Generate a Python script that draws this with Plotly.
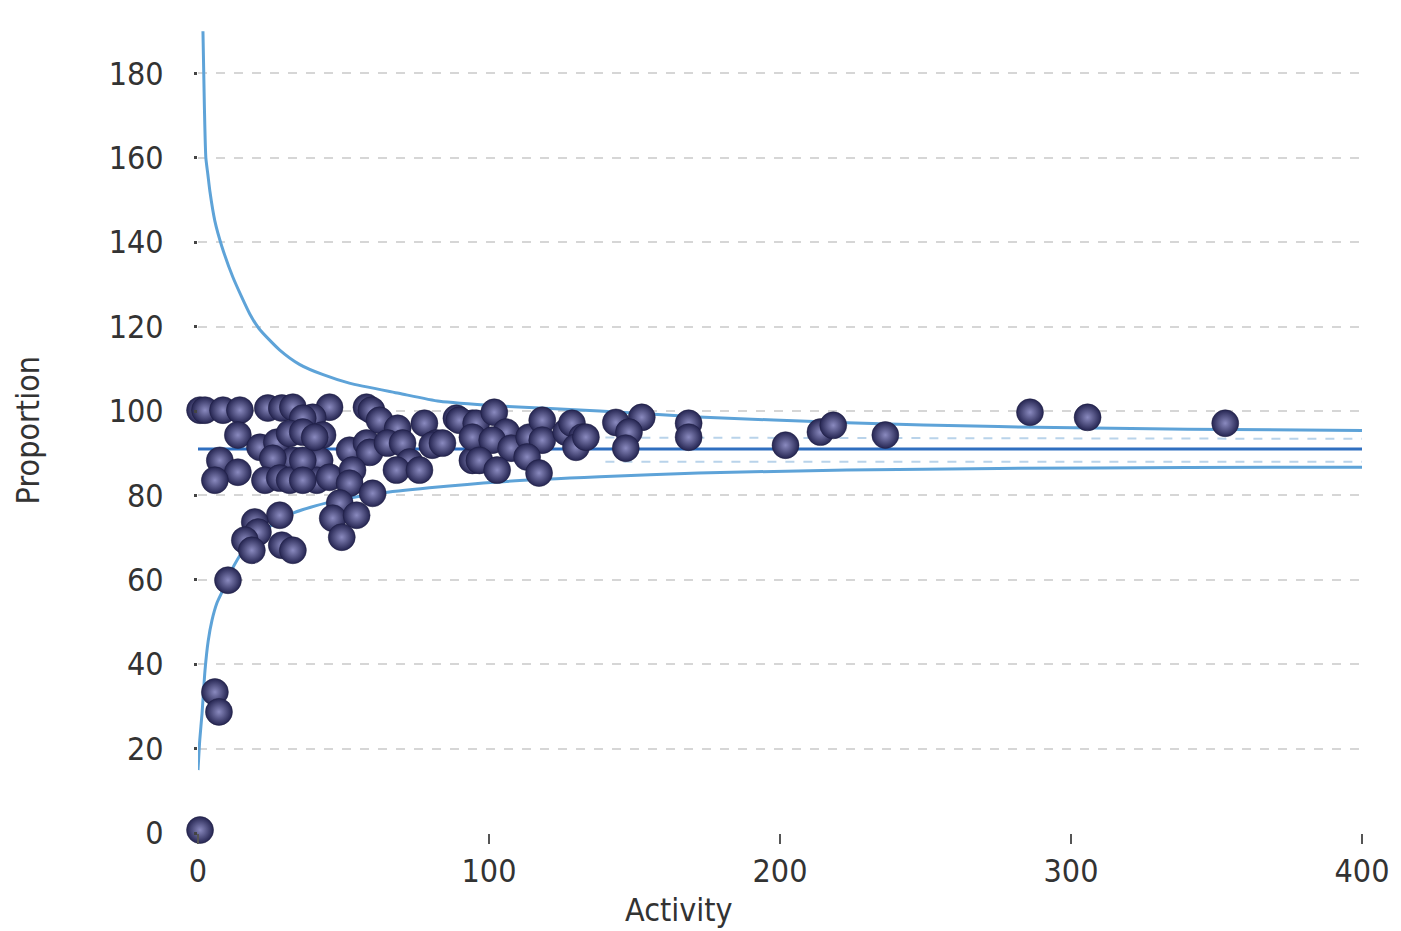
import plotly.graph_objects as go

# Scatter data (Activity, Proportion)
activity = [0.7, 2.4, 8.6, 14.4, 24.0, 28.8, 32.6, 45.2, 39.4, 36.0, 57.9, 59.6, 62.4, 68.6, 77.8,
            81.9, 88.8, 94.3, 94.3, 13.7, 7.5, 13.7, 5.8, 21.3, 27.1, 31.5, 36.0, 42.8, 41.8, 32.6,
            25.7, 23.0, 28.1, 31.5, 40.8, 45.2, 52.1, 57.9, 59.0, 65.1, 70.3, 80.5, 72.7, 68.2, 76.1,
            53.1, 52.1, 60.0, 48.7, 46.3, 54.5, 49.4, 28.1, 19.5, 20.6, 16.1, 18.5, 28.8, 32.6, 10.3,
            5.8, 7.2, 0.7, 89.8, 95.6, 101.8, 105.9, 94.3, 101.1, 107.6, 113.8, 118.3, 118.3, 126.5,
            128.5, 132.0, 129.9, 96.7, 102.8, 113.1, 117.2, 84.0, 143.6, 152.5, 148.1, 147.0, 133.3,
            168.6, 168.6, 201.9, 213.9, 218.3, 236.2, 285.9, 305.7, 353.0, 36.0, 36.0, 40.1]
proportion = [100.2, 100.2, 100.2, 100.2, 100.7, 100.7, 100.9, 100.9, 98.5, 98.3, 100.9, 100.2, 97.8,
              95.9, 97.1, 92.4, 98.3, 97.1, 88.3, 94.3, 88.3, 85.5, 83.6, 91.4, 92.6, 94.7, 95.0,
              94.3, 88.3, 88.3, 88.8, 83.6, 84.1, 83.6, 83.6, 84.3, 90.7, 92.4, 90.2, 92.4, 92.4,
              91.9, 87.9, 86.0, 86.0, 86.0, 82.9, 80.5, 78.2, 74.6, 75.3, 70.1, 75.3, 73.7, 71.3,
              69.4, 67.0, 68.2, 67.0, 59.9, 33.4, 28.7, 0.7, 97.8, 97.1, 99.7, 95.0, 93.8, 93.1,
              91.2, 93.8, 97.8, 93.1, 95.0, 97.1, 93.8, 91.4, 88.3, 86.0, 89.1, 85.3, 92.4, 97.3,
              98.5, 95.0, 91.2, 93.8, 97.1, 93.8, 91.9, 95.0, 96.6, 94.3, 99.7, 98.5, 97.1, 88.3,
              83.6, 93.8]

# Funnel limits
upper_x = [1.7, 2.2, 2.7, 3.4, 4.1, 5.8, 8.2, 12, 17.8, 21, 28, 35, 43, 52, 69, 83, 103.5, 138, 172,
           223, 275, 340, 400]
upper_y = [190, 172, 160, 156, 152, 145, 139, 131.7, 123, 119.5, 114.5, 111, 108.6, 106.6, 104.2,
           102.3, 101.2, 100.0, 98.6, 97.2, 96.3, 95.7, 95.4]
lower_x = [0, 0.6, 1.4, 2.4, 3.5, 4.8, 6.5, 8.6, 11, 13.7, 18, 23.7, 32.6, 45.2, 62.4, 79.5, 103, 138,
           172, 223, 275, 340, 400]
lower_y = [14.9, 22, 28.4, 38.5, 45.5, 50.4, 54.5, 57.6, 61.5, 65.0, 69.2, 72.2, 75.8, 78.4, 80.5,
           81.8, 83.2, 84.4, 85.3, 86.0, 86.4, 86.6, 86.7]
mean_x = [0, 400]
mean_y = [91.0, 91.0]
inner_x = [140, 400]
inner_upper_y = [93.7, 93.4]
inner_lower_y = [88.0, 88.0]

x_ticks = [0, 100, 200, 300, 400]
y_ticks = [0, 20, 40, 60, 80, 100, 120, 140, 160, 180]

FONT = "DejaVu Sans Condensed, DejaVu Sans, sans-serif"
TXT = "#333333"

fig = go.Figure()
fig.add_trace(go.Scatter(x=inner_x, y=inner_upper_y, mode="lines",
                         line=dict(color="#b9d3ea", width=2, dash="dash"), hoverinfo="skip"))
fig.add_trace(go.Scatter(x=inner_x, y=inner_lower_y, mode="lines",
                         line=dict(color="#b9d3ea", width=2, dash="dash"), hoverinfo="skip"))
fig.add_trace(go.Scatter(x=upper_x, y=upper_y, mode="lines",
                         line=dict(color="#5ea3d8", width=3, shape="spline", smoothing=0.6),
                         hoverinfo="skip"))
fig.add_trace(go.Scatter(x=lower_x, y=lower_y, mode="lines",
                         line=dict(color="#5ea3d8", width=3, shape="spline", smoothing=0.6),
                         hoverinfo="skip"))
fig.add_trace(go.Scatter(x=mean_x, y=mean_y, mode="lines",
                         line=dict(color="#2f6fc0", width=3), hoverinfo="skip"))
fig.add_trace(go.Scatter(x=activity, y=proportion, mode="markers", cliponaxis=False,
                         marker=dict(size=27, color="#242450",
                                     line=dict(width=0.5, color="#1c1c40"),
                                     gradient=dict(type="radial", color="#8a8abf"))))

fig.update_layout(
    width=1393, height=923,
    margin=dict(l=190, r=33, t=19, b=98),
    paper_bgcolor="white", plot_bgcolor="white",
    showlegend=False,
    font=dict(family=FONT, size=32, color=TXT),
    xaxis=dict(range=[0, 400], tickvals=x_ticks, showgrid=False, zeroline=False,
               showline=False, ticks="outside", ticklen=10, tickcolor="#555555", tickwidth=1.5,
               tickfont=dict(size=32, color=TXT)),
    yaxis=dict(range=[0, 191], tickvals=y_ticks, showgrid=True, gridcolor="#d6d6d6",
               griddash="dash", gridwidth=1.5, zeroline=False, showline=False,
               ticks="outside", ticklen=3, tickcolor="#444444", tickwidth=3,
               ticklabelstandoff=24, tickfont=dict(size=32, color=TXT)),
    annotations=[
        dict(text="Proportion", xref="paper", yref="paper", x=-0.1457, y=0.5,
             xanchor="center", yanchor="middle", textangle=-90, showarrow=False,
             font=dict(family=FONT, size=32, color=TXT)),
        dict(text="Activity", xref="paper", yref="paper", x=0.413, y=-0.095,
             xanchor="center", yanchor="middle", showarrow=False,
             font=dict(family=FONT, size=32, color=TXT)),
    ],
)

fig.write_html("out.html")
